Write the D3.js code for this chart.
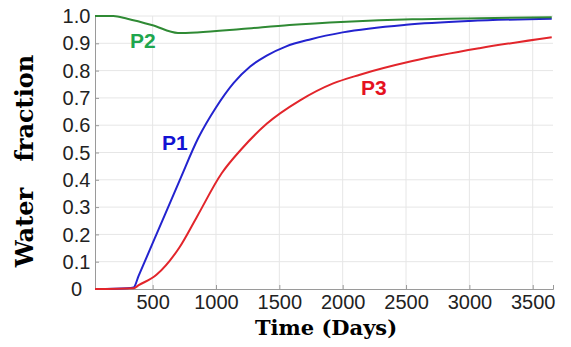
<!DOCTYPE html>
<html>
<head>
<meta charset="utf-8">
<script src="https://cdn.jsdelivr.net/npm/d3@7"></script>
<style>
  html, body { margin: 0; padding: 0; background: #fff; }
  svg { display: block; }
</style>
</head>
<body>
<svg id="chart" width="571" height="347"></svg>
<script>
// ---- data ----
const seriesNames = ["P1", "P2", "P3"];
const daysP1 = [45, 300, 350, 390, 530, 715, 860, 1000, 1140, 1270, 1400, 1550, 1750, 2000, 2500, 3000, 3650];
const valuesP1 = [0, 0.003, 0.006, 0.049, 0.2, 0.4, 0.553, 0.665, 0.755, 0.815, 0.855, 0.888, 0.915, 0.94, 0.968, 0.982, 0.99];
const daysP2 = [45, 190, 300, 500, 700, 850, 1200, 1580, 2030, 2550, 3080, 3650];
const valuesP2 = [1.0, 1.0, 0.99, 0.966, 0.938, 0.94, 0.952, 0.967, 0.979, 0.988, 0.992, 0.995];
const daysP3 = [45, 350, 390, 530, 715, 850, 1045, 1200, 1400, 1660, 1925, 2136, 2550, 3080, 3650];
const valuesP3 = [0, 0.003, 0.014, 0.052, 0.155, 0.265, 0.424, 0.512, 0.605, 0.69, 0.753, 0.785, 0.835, 0.882, 0.922];
const xTicks = [500, 1000, 1500, 2000, 2500, 3000, 3500];
const yTicks = [0, 0.1, 0.2, 0.3, 0.4, 0.5, 0.6, 0.7, 0.8, 0.9, 1.0];
const yTickLabels = ["0", "0.1", "0.2", "0.3", "0.4", "0.5", "0.6", "0.7", "0.8", "0.9", "1.0"];
const xTitle = "Time (Days)";
const yTitle = "Water fraction";

const lineColors = {P1: "#2323cf", P2: "#2f8a34", P3: "#e2252b"};
const labelColors = {P1: "#1212d2", P2: "#1fa64e", P3: "#e5121f"};

// ---- layout ----
const svg = d3.select("#chart");
const x = d3.scaleLinear().domain([45, 3660]).range([95, 553]);
const y = d3.scaleLinear().domain([0, 1]).range([289, 16]);

// grid
const grid = svg.append("g");
grid.selectAll("line.h").data(yTicks.slice(1)).join("line")
  .attr("x1", x.range()[0]).attr("x2", x.range()[1])
  .attr("y1", d => y(d)).attr("y2", d => y(d))
  .attr("stroke", "#e6e6e6").attr("stroke-width", 1);
grid.selectAll("line.v").data(xTicks).join("line")
  .attr("x1", d => x(d)).attr("x2", d => x(d))
  .attr("y1", y.range()[0]).attr("y2", y.range()[1])
  .attr("stroke", "#e6e6e6").attr("stroke-width", 1);

// axes
const xAxis = d3.axisBottom(x).tickValues(xTicks).tickSize(-4).tickPadding(6).tickFormat(d3.format("d"));
const gx = svg.append("g").attr("transform", `translate(0,${y.range()[0]})`).call(xAxis);
gx.select(".domain").attr("stroke", "#9a9a9a");
gx.selectAll(".tick line").attr("stroke", "#9a9a9a");
gx.selectAll(".tick text").attr("font-family", "'Liberation Sans', Arial, sans-serif")
  .attr("font-size", 20).attr("fill", "#222");

const yAxis = d3.axisLeft(y).tickValues(yTicks).tickSize(-4).tickPadding(0)
  .tickFormat((d, i) => yTickLabels[i]);
const gy = svg.append("g").attr("transform", `translate(${x.range()[0]},0)`).call(yAxis);
gy.select(".domain").attr("stroke", "#9a9a9a");
gy.selectAll(".tick line").attr("stroke", "#9a9a9a");
gy.selectAll(".tick text").attr("font-family", "'Liberation Sans', Arial, sans-serif")
  .attr("font-size", 20).attr("fill", "#222")
  .attr("text-anchor", "middle").attr("x", -18.5).attr("dy", "0.33em");

// lines
const series = [
  {name: "P1", days: daysP1, vals: valuesP1},
  {name: "P2", days: daysP2, vals: valuesP2},
  {name: "P3", days: daysP3, vals: valuesP3}
];
const line = d3.line().x(d => x(d[0])).y(d => y(d[1])).curve(d3.curveMonotoneX);
svg.append("g").selectAll("path").data(series).join("path")
  .attr("d", s => line(s.days.map((d, i) => [d, s.vals[i]])))
  .attr("fill", "none").attr("stroke", s => lineColors[s.name]).attr("stroke-width", 2);

// series labels
const labelPos = {P1: [162, 150], P2: [130, 48], P3: [361, 95]};
svg.append("g").selectAll("text").data(seriesNames).join("text")
  .attr("x", d => labelPos[d][0]).attr("y", d => labelPos[d][1])
  .attr("font-family", "'Liberation Sans', Arial, sans-serif").attr("font-weight", "bold")
  .attr("font-size", 21).attr("fill", d => labelColors[d]).text(d => d);

// titles
svg.append("text").attr("x", 326).attr("y", 335).attr("text-anchor", "middle")
  .attr("font-family", "'DejaVu Serif', serif").attr("font-weight", "bold")
  .attr("font-size", 21).attr("fill", "#000").text(xTitle);
svg.append("text").attr("transform", "translate(33,161) rotate(-90)").attr("text-anchor", "middle")
  .attr("font-family", "'DejaVu Serif', serif").attr("font-weight", "bold")
  .attr("font-size", 24).attr("word-spacing", 18).attr("fill", "#000").text(yTitle);
</script>
</body>
</html>
